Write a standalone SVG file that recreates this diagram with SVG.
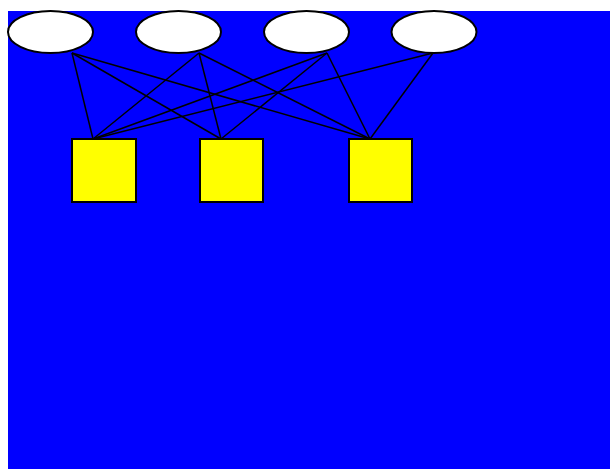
<svg xmlns="http://www.w3.org/2000/svg" width="610" height="469" viewBox="0 0 610 469">
<style>
.e{fill:#fff;stroke:#000;stroke-width:2}
.r{fill:#ff0;stroke:#000;stroke-width:2}
.c line{stroke:#000;stroke-width:1.5}
</style>
<rect x="0" y="0" width="610" height="469" fill="#fff"/>
<rect x="8" y="11" width="602" height="458" fill="#00f"/>
<g class="c" id="connectors">
<line x1="72" y1="53" x2="93" y2="139"/>
<line x1="72" y1="53" x2="221" y2="139"/>
<line x1="72" y1="53" x2="370" y2="139"/>
<line x1="199" y1="53" x2="93" y2="139"/>
<line x1="199" y1="53" x2="221" y2="139"/>
<line x1="199" y1="53" x2="370" y2="139"/>
<line x1="327" y1="53" x2="93" y2="139"/>
<line x1="327" y1="53" x2="221" y2="139"/>
<line x1="327" y1="53" x2="370" y2="139"/>
<line x1="433" y1="53" x2="93" y2="139"/>
<line x1="433" y1="53" x2="370" y2="139"/>
</g>
<g id="e1"><ellipse class="e" cx="50.5" cy="32" rx="42.5" ry="21"/></g>
<g id="e2"><ellipse class="e" cx="178.5" cy="32" rx="42.5" ry="21"/></g>
<g id="e3"><ellipse class="e" cx="306.5" cy="32" rx="42.5" ry="21"/></g>
<g id="e4"><ellipse class="e" cx="434" cy="32" rx="42.5" ry="21"/></g>
<g id="r1"><rect class="r" x="72" y="139" width="64" height="63"/></g>
<g id="r2"><rect class="r" x="200" y="139" width="63" height="63"/></g>
<g id="r3"><rect class="r" x="349" y="139" width="63" height="63"/></g>
</svg>
